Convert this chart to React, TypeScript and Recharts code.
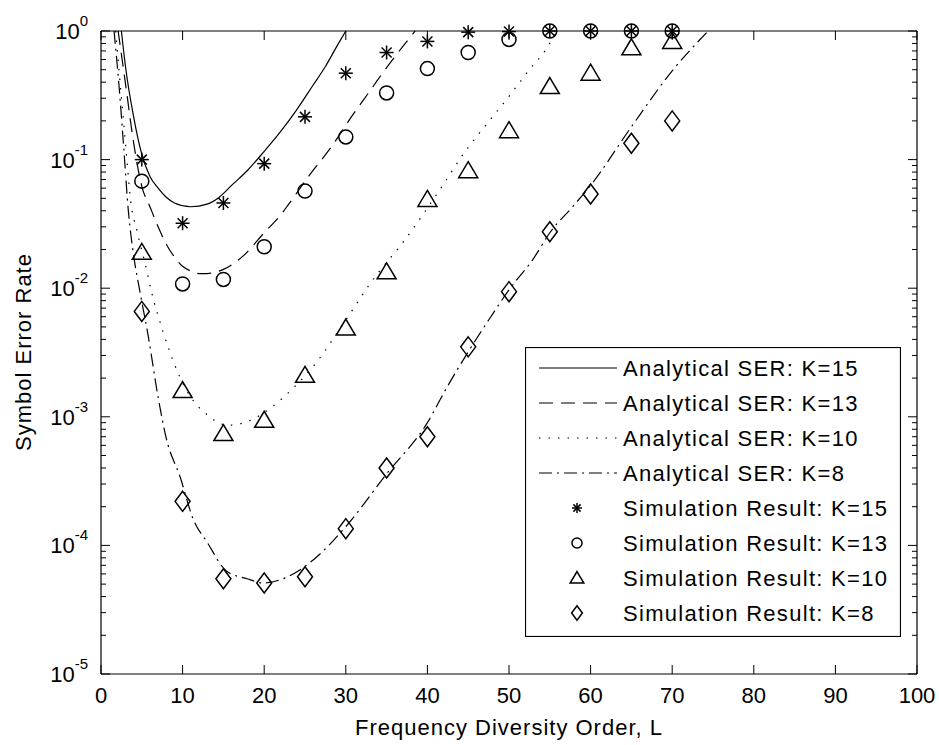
import {
  ComposedChart,
  Legend,
  Line,
  ReferenceLine,
  Scatter,
  XAxis,
  YAxis
} from 'recharts';

// simulation results (markers)
const simL = [5, 10, 15, 20, 25, 30, 35, 40, 45, 50, 55, 60, 65, 70];
const simK15 = [0.1, 0.032, 0.046, 0.093, 0.215, 0.47, 0.68, 0.83, 0.98, 0.99, 1, 1, 1, 1];
const simK13 = [0.068, 0.0108, 0.0117, 0.021, 0.057, 0.15, 0.33, 0.51, 0.68, 0.86, 1, 1, 1, 1];
const simK10 = [0.019, 0.0016, 0.00074, 0.00094, 0.0021, 0.0049, 0.0134, 0.049, 0.082, 0.168, 0.37, 0.47, 0.74, 0.83];
const simK8 = [0.0066, 0.00022, 5.5e-5, 5.1e-5, 5.7e-5, 0.000135, 0.0004, 0.0007, 0.0035, 0.0094, 0.0275, 0.054, 0.134, 0.2];

// analytical curves
const anaL15 = [2.5, 3, 4, 5, 6, 7, 8, 9, 11, 13, 14.5, 16, 18, 20, 22, 24, 26, 27.5, 29, 30];
const anaV15 = [1, 0.53, 0.215, 0.11, 0.074, 0.06, 0.051, 0.046, 0.043, 0.045, 0.051, 0.063, 0.083, 0.116, 0.165, 0.245, 0.38, 0.53, 0.78, 1];

const anaL13 = [2.1, 3, 4, 5, 6, 7, 8, 9, 10, 11, 12, 13, 14, 15, 16, 17.5, 20, 22, 23, 25.5, 28, 31, 33, 35, 37, 38.5];
const anaV13 = [1, 0.39, 0.135, 0.062, 0.043, 0.03, 0.022, 0.0175, 0.0148, 0.0136, 0.013, 0.013, 0.0133, 0.014, 0.0152, 0.018, 0.027, 0.037, 0.045, 0.075, 0.12, 0.23, 0.345, 0.52, 0.76, 1];

const anaL10 = [1.8, 2.2, 2.7, 3.2, 3.6, 4.4, 5.4, 6.2, 7.6, 9.3, 11, 13, 15.5, 18, 21, 23.5, 26.5, 29.7, 33, 37.5, 41.5, 44.6, 47.3, 50, 52.6, 54.6, 55.8];
const anaV10 = [1, 0.5, 0.22, 0.095, 0.05, 0.028, 0.0156, 0.0093, 0.0046, 0.0023, 0.00142, 0.00104, 0.00086, 0.00092, 0.0012, 0.00166, 0.0027, 0.0053, 0.0109, 0.025, 0.058, 0.115, 0.19, 0.31, 0.51, 0.73, 1];

const anaL8 = [1.6, 2.2, 2.8, 3.35, 4, 4.8, 5.8, 7, 8, 9.7, 11.3, 13, 15.4, 17.9, 19.9, 22.3, 26, 30, 35, 40, 42.4, 45, 47.3, 50, 53, 55, 57.8, 60, 65, 70, 74.4];
const anaV8 = [1, 0.38, 0.12, 0.04, 0.018, 0.0092, 0.0042, 0.00142, 0.00068, 0.00034, 0.00016, 0.000106, 6.3e-5, 5.5e-5, 5.1e-5, 5.5e-5, 7.7e-5, 0.00014, 0.00036, 0.0009, 0.0017, 0.0032, 0.0054, 0.0097, 0.017, 0.027, 0.043, 0.063, 0.18, 0.49, 1];

const xTicks = [0, 10, 20, 30, 40, 50, 60, 70, 80, 90, 100];
const yDecades = [-5, -4, -3, -2, -1, 0];

const legendLabels = [
  'Analytical SER: K=15',
  'Analytical SER: K=13',
  'Analytical SER: K=10',
  'Analytical SER: K=8',
  'Simulation Result: K=15',
  'Simulation Result: K=13',
  'Simulation Result: K=10',
  'Simulation Result: K=8'
];

const FONT = '"Liberation Sans", Arial, sans-serif';
const PLOT_W = 816;
const PLOT_H = 643;

const toPoints = (xs: number[], ys: number[]) => xs.map((L, i) => ({ L, v: ys[i] }));

// major + minor ticks on the log axis
const yTicks: number[] = [];
yDecades.forEach((d) => {
  if (d === 0) {
    yTicks.push(1);
    return;
  }
  for (let m = 1; m <= 9; m++) yTicks.push(Number((m * Math.pow(10, d)).toPrecision(3)));
});

const dashes = ['', '14 8', '1.5 8', '13 5 2 5'];
type MarkerKind = 'star' | 'circle' | 'triangle' | 'diamond';
const markerKinds: MarkerKind[] = ['star', 'circle', 'triangle', 'diamond'];

function Marker({ kind, cx, cy, k = 1 }: { kind: MarkerKind; cx: number; cy: number; k?: number }) {
  const s = { stroke: '#000', strokeWidth: 1.5, fill: 'none' };
  if (kind === 'star') {
    return (
      <g {...s}>
        <line x1={cx} x2={cx} y1={cy - 7 * k} y2={cy + 7 * k} />
        <line x1={cx - 7 * k} x2={cx + 7 * k} y1={cy} y2={cy} />
        <line x1={cx - 5 * k} x2={cx + 5 * k} y1={cy - 5 * k} y2={cy + 5 * k} />
        <line x1={cx - 5 * k} x2={cx + 5 * k} y1={cy + 5 * k} y2={cy - 5 * k} />
      </g>
    );
  }
  if (kind === 'circle') return <circle cx={cx} cy={cy} r={7 * k} {...s} />;
  if (kind === 'triangle') {
    return <polygon points={`${cx},${cy - 9 * k} ${cx + 9.5 * k},${cy + 7 * k} ${cx - 9.5 * k},${cy + 7 * k}`} {...s} />;
  }
  return <polygon points={`${cx},${cy - 10 * k} ${cx + 7.5 * k},${cy} ${cx},${cy + 10 * k} ${cx - 7.5 * k},${cy}`} {...s} />;
}

const markerShape = (kind: MarkerKind) => (props: { cx?: number; cy?: number }) => {
  const { cx, cy } = props;
  if (typeof cx !== 'number' || typeof cy !== 'number') return <g />;
  return <Marker kind={kind} cx={cx} cy={cy} />;
};

function YTick(props: { x: number; y: number; payload: { value: number } }) {
  const { x, y, payload } = props;
  const e = Math.log10(payload.value);
  const major = Math.abs(e - Math.round(e)) < 1e-6;
  const len = major ? 9 : 5;
  return (
    <g>
      <line x1={x} x2={x + len} y1={y} y2={y} stroke="#000" />
      <line x1={x + PLOT_W} x2={x + PLOT_W - len} y1={y} y2={y} stroke="#000" />
      {major ? (
        <text x={x - 13} y={y + 8} textAnchor="end" fontFamily={FONT} fontSize={22} fill="#000">
          <tspan>10</tspan>
          <tspan dy={-13} fontSize={15}>{String(Math.round(e))}</tspan>
        </text>
      ) : null}
    </g>
  );
}

function XTick(props: { x: number; y: number; payload: { value: number } }) {
  const { x, y, payload } = props;
  return (
    <g>
      <line x1={x} x2={x} y1={y} y2={y - 9} stroke="#000" />
      <line x1={x} x2={x} y1={y - PLOT_H} y2={y - PLOT_H + 9} stroke="#000" />
      <text x={x} y={y + 29} textAnchor="middle" fontFamily={FONT} fontSize={22} fill="#000">
        {payload.value}
      </text>
    </g>
  );
}

function LegendBox() {
  return (
    <svg width={376} height={290} style={{ display: 'block' }}>
      <rect x={0.5} y={0.5} width={375} height={289} fill="#fff" stroke="#000" strokeWidth={1.2} />
      {legendLabels.map((label, i) => {
        const cy = 21 + i * 35;
        return (
          <g key={label}>
            {i < 4 ? (
              <line x1={14} x2={92} y1={cy} y2={cy} stroke="#000" strokeWidth={1.2} strokeDasharray={dashes[i] || undefined} />
            ) : (
              <Marker kind={markerKinds[i - 4]} cx={52} cy={cy} k={0.72} />
            )}
            <text x={98} y={cy + 8} fontFamily={FONT} fontSize={22} letterSpacing={1.3} fill="#000">
              {label}
            </text>
          </g>
        );
      })}
    </svg>
  );
}

const curves = [
  { name: 'Analytical SER: K=15', data: toPoints(anaL15, anaV15) },
  { name: 'Analytical SER: K=13', data: toPoints(anaL13, anaV13) },
  { name: 'Analytical SER: K=10', data: toPoints(anaL10, anaV10) },
  { name: 'Analytical SER: K=8', data: toPoints(anaL8, anaV8) }
];

const sims = [
  { name: 'Simulation Result: K=15', data: toPoints(simL, simK15) },
  { name: 'Simulation Result: K=13', data: toPoints(simL, simK13) },
  { name: 'Simulation Result: K=10', data: toPoints(simL, simK10) },
  { name: 'Simulation Result: K=8', data: toPoints(simL, simK8) }
];

export default function App() {
  return (
    <div style={{ position: 'absolute', left: 0, top: 0, background: '#fff' }}>
      <ComposedChart width={939} height={745} margin={{ top: 31, right: 22, bottom: 21, left: 41 }}>
        <XAxis
          dataKey="L"
          type="number"
          domain={[0, 100]}
          ticks={xTicks}
          interval={0}
          tickSize={0}
          tickMargin={0}
          tickLine={false}
          height={50}
          axisLine={{ stroke: '#000', strokeWidth: 1.2 }}
          tick={XTick}
          label={{
            value: 'Frequency Diversity Order, L',
            content: (p: { viewBox?: { x: number; y: number; width: number } }) => {
              const vb = p.viewBox ?? { x: 101, y: 674, width: PLOT_W };
              return (
                <text x={vb.x + vb.width / 2} y={vb.y + 61} textAnchor="middle" fontFamily={FONT} fontSize={22} letterSpacing={1} fill="#000">
                  Frequency Diversity Order, L
                </text>
              );
            }
          }}
        />
        <YAxis
          type="number"
          scale="log"
          domain={[1e-5, 1]}
          ticks={yTicks}
          interval={0}
          tickSize={0}
          tickMargin={0}
          tickLine={false}
          width={60}
          axisLine={{ stroke: '#000', strokeWidth: 1.2 }}
          tick={YTick}
          label={{
            value: 'Symbol Error Rate',
            content: () => (
              <text x={31} y={352} transform="rotate(-90, 31, 352)" textAnchor="middle" fontFamily={FONT} fontSize={22} letterSpacing={1} fill="#000">
                Symbol Error Rate
              </text>
            )
          }}
        />
        <ReferenceLine y={1} stroke="#000" strokeWidth={1.2} />
        <ReferenceLine x={100} stroke="#000" strokeWidth={1.2} />
        {curves.map((c, i) => (
          <Line
            key={c.name}
            name={c.name}
            data={c.data}
            dataKey="v"
            type="monotone"
            stroke="#000"
            strokeWidth={1.2}
            strokeDasharray={dashes[i] || undefined}
            dot={false}
            activeDot={false}
            isAnimationActive={false}
          />
        ))}
        {sims.map((s, i) => (
          <Scatter
            key={s.name}
            name={s.name}
            data={s.data}
            dataKey="v"
            shape={markerShape(markerKinds[i])}
            isAnimationActive={false}
          />
        ))}
        <Legend
          layout="horizontal"
          align="center"
          verticalAlign="middle"
          wrapperStyle={{ position: 'absolute', left: 525, top: 347, width: 376, height: 290 }}
          content={() => <LegendBox />}
        />
      </ComposedChart>
    </div>
  );
}
